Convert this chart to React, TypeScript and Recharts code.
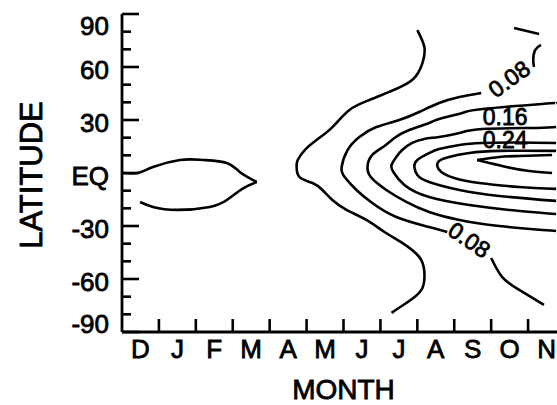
import React from "react";
import { LineChart, Line, XAxis, YAxis, ReferenceDot } from "recharts";

// month bands, first band starts at 0
const MONTHS = ["D", "J", "F", "M", "A", "M", "J", "J", "A", "S", "O", "N"];
const LAT_TICKS = [-90, -80, -70, -60, -50, -40, -30, -20, -10, 0, 10, 20, 30, 40, 50, 60, 70, 80, 90];
const LAT_NAMES: Record<string, string> = { "90": "90", "60": "60", "30": "30", "0": "EQ", "-30": "-30", "-60": "-60", "-90": "-90" };

// contour lines, [month, latitude]
const LENS_TOP = [[0, 0], [0.43, 0], [0.84, 3.4], [1.57, 7.4], [2.19, 7.4], [2.84, 5.7], [3.19, 0.6], [3.65, -5.1]];
const LENS_BOTTOM = [[3.65, -5.1], [3.28, -8.7], [2.84, -15.3], [2.38, -19.2], [1.49, -20.9], [0.84, -19.2], [0.49, -16.4]];
const RIDGE_A = [[8.0, 80.9], [8.19, 71.3], [8.14, 62.3], [7.86, 52.6], [7.24, 45.9], [6.7, 41.3], [6.16, 35.7], [5.7, 26.0], [5.27, 18.7], [4.95, 13.0], [4.76, 7.4], [4.73, 3.4], [4.81, -2.3], [5.16, -5.7], [5.43, -9.6], [5.7, -15.3], [6.08, -20.9], [6.62, -26.6], [7.11, -33.4], [7.59, -39.6], [8.05, -47.5], [8.19, -56.0], [8.11, -66.2], [7.7, -73.6], [7.3, -79.2]];
const C08_HOOK = [[11.16, 60.0], [11.14, 64.0], [11.19, 69.6], [11.35, 72.5]];
const C08_TAIL = [[10.62, 82.1], [11.3, 78.7]];
const C08_MAIN = [[9.73, 45.3], [9.14, 43.0], [8.59, 39.6], [8.05, 34.5], [7.51, 30.0], [6.89, 26.0], [6.43, 20.4], [6.11, 13.0], [5.95, 3.4], [6.03, -2.3], [6.35, -9.6], [6.78, -17.0], [7.43, -24.9], [8.32, -30.6], [8.81, -33.4]];
const C08_LOW = [[10.0, -48.1], [10.3, -58.9], [10.76, -66.2], [11.43, -74.7]];
const C16 = [[11.76, 39.6], [11.38, 39.1], [9.76, 36.2], [9.22, 34.0], [8.59, 30.6], [8.32, 28.3], [7.78, 24.3], [7.38, 19.8], [7.11, 15.3], [6.78, 10.2], [6.65, 3.4], [6.76, -2.8], [7.16, -9.6], [7.7, -16.4], [8.32, -22.1], [9.14, -26.6], [10.22, -30.0], [11.38, -32.3], [11.76, -32.8]];
const C24 = [[11.76, 26.0], [11.22, 25.5], [9.76, 24.9], [9.14, 22.6], [8.59, 20.4], [8.19, 19.3], [7.86, 17.0], [7.59, 13.0], [7.43, 9.1], [7.3, 4.5], [7.35, 0.6], [7.65, -6.8], [8.32, -13.6], [9.41, -18.1], [10.49, -20.9], [11.76, -23.2]];
const C32 = [[11.76, 17.0], [10.76, 17.3], [9.76, 17.0], [9.14, 15.9], [8.59, 13.6], [8.32, 11.3], [8.0, 7.4], [7.92, 3.4], [8.0, -1.1], [8.32, -5.1], [9.14, -9.6], [10.22, -13.0], [11.76, -15.8]];
const C40 = [[11.76, 12.5], [10.22, 12.5], [9.41, 11.3], [8.86, 9.1], [8.59, 6.8], [8.54, 4.0], [8.65, 0.6], [9.0, -2.8], [9.68, -5.7], [10.76, -7.9], [11.76, -9.0]];
const C48_TOP = [[11.65, 10.2], [10.76, 9.6], [10.22, 9.1], [9.62, 7.4]];
const C48_LOW = [[9.62, 7.4], [9.95, 5.7], [10.41, 3.4], [11.03, 1.1], [11.65, 0]];

const CONTOURS = [
  { id: "lensTop", pts: LENS_TOP },
  { id: "lensBottom", pts: LENS_BOTTOM },
  { id: "ridgeA", pts: RIDGE_A },
  { id: "c08hook", pts: C08_HOOK },
  { id: "c08tail", pts: C08_TAIL },
  { id: "c08main", pts: C08_MAIN },
  { id: "c08low", pts: C08_LOW },
  { id: "c16", pts: C16 },
  { id: "c24", pts: C24 },
  { id: "c32", pts: C32 },
  { id: "c40", pts: C40 },
  { id: "c48top", pts: C48_TOP },
  { id: "c48low", pts: C48_LOW },
];

const LABEL_TEXT = ["0.08", "0.16", "0.24", "0.08"];
const LABEL_MONTH = [10.49, 10.38, 10.38, 9.41];
const LABEL_LAT = [53.2, 31.7, 18.7, -37.9];
const LABEL_ANGLE = [-36, 0, 0, 34];

const FONT = "'Liberation Sans', Arial, Helvetica, sans-serif";
const INK = "#000";
// scanned figure: text looks heavier than plain regular weight
const heavy = { stroke: INK, strokeWidth: 0.8, fill: INK, fontFamily: FONT };

const bottomTicks: number[] = [];
MONTHS.forEach((_, i) => {
  if (i > 0) bottomTicks.push(i);
  bottomTicks.push(i + 0.5);
});
const edgeTicks = MONTHS.slice(1).map((_, i) => i + 1);

const LeftTick = (props: any) => {
  const { x, y, payload } = props;
  const v = payload.value;
  const major = v % 30 === 0;
  let dy = 11.5;
  if (v === 90) dy = 21;
  if (v === -90) dy = 1;
  return (
    <g>
      <line x1={x} x2={x + (major ? 17 : 9)} y1={y} y2={y} stroke={INK} strokeWidth={2.6} />
      {major && (
        <text x={x - 13} y={y + dy} textAnchor="end" fontSize={26} {...heavy}>
          {LAT_NAMES[String(v)]}
        </text>
      )}
    </g>
  );
};

const RightTick = (props: any) => {
  const { x, y, payload } = props;
  const major = payload.value % 30 === 0;
  return <line x1={x} x2={x - (major ? 22 : 14)} y1={y} y2={y} stroke={INK} strokeWidth={2.6} />;
};

const BottomTick = (props: any) => {
  const { x, y, payload } = props;
  const v = payload.value;
  if (Number.isInteger(v)) {
    return <line x1={x} x2={x} y1={y} y2={y - 13} stroke={INK} strokeWidth={2.6} />;
  }
  return (
    <text x={x} y={y + 26} textAnchor="middle" fontSize={26} {...heavy}>
      {MONTHS[Math.floor(v)]}
    </text>
  );
};

const TopTick = (props: any) => {
  const { x, y } = props;
  return <line x1={x} x2={x} y1={y} y2={y + 12} stroke={INK} strokeWidth={2.6} />;
};

const monthTitle = (props: any) => {
  const vb = props.viewBox;
  return (
    <text x={vb.x + vb.width / 2} y={vb.y + 67} textAnchor="middle" fontSize={28} {...heavy}>
      MONTH
    </text>
  );
};

const latTitle = (props: any) => {
  const vb = props.viewBox;
  const cx = vb.x + 42;
  const cy = vb.y + vb.height / 2 + 2;
  return (
    <text x={cx} y={cy} transform={`rotate(-90 ${cx} ${cy})`} textAnchor="middle" fontSize={31} {...heavy}>
      LATITUDE
    </text>
  );
};

export default function App() {
  return (
    <div style={{ position: "fixed", left: 0, top: 0, width: 557, height: 405, overflow: "hidden", background: "#fff" }}>
      <LineChart width={580} height={405} margin={{ top: 14, right: 15, bottom: 0, left: 0 }}>
        <XAxis
          xAxisId="b"
          dataKey="m"
          type="number"
          domain={[0, 12]}
          ticks={bottomTicks}
          interval={0}
          height={73}
          tickSize={0}
          tickMargin={0}
          tickLine={false}
          axisLine={{ stroke: INK, strokeWidth: 2.8 }}
          tick={<BottomTick />}
          allowDataOverflow
          label={monthTitle}
        />
        <XAxis
          xAxisId="t"
          orientation="top"
          dataKey="m"
          type="number"
          domain={[0, 12]}
          ticks={edgeTicks}
          interval={0}
          height={0}
          tickSize={0}
          tickMargin={0}
          tickLine={false}
          axisLine={{ stroke: INK, strokeWidth: 2.8 }}
          tick={<TopTick />}
          allowDataOverflow
        />
        <YAxis
          yAxisId="l"
          type="number"
          domain={[-90, 90]}
          ticks={LAT_TICKS}
          interval={0}
          width={122}
          tickSize={0}
          tickMargin={0}
          tickLine={false}
          axisLine={{ stroke: INK, strokeWidth: 2.8 }}
          tick={<LeftTick />}
          allowDataOverflow
          label={latTitle}
        />
        <YAxis
          yAxisId="r"
          orientation="right"
          type="number"
          domain={[-90, 90]}
          ticks={LAT_TICKS}
          interval={0}
          width={0}
          tickSize={0}
          tickMargin={0}
          tickLine={false}
          axisLine={{ stroke: INK, strokeWidth: 2.8 }}
          tick={<RightTick />}
          allowDataOverflow
        />
        {CONTOURS.map((c) => (
          <Line
            key={c.id}
            xAxisId="b"
            yAxisId="l"
            data={c.pts.map(([m, lat]) => ({ m, lat }))}
            dataKey="lat"
            type="natural"
            stroke={INK}
            strokeWidth={2.6}
            dot={false}
            activeDot={false}
            isAnimationActive={false}
          />
        ))}
        {LABEL_TEXT.map((t, i) => (
          <ReferenceDot
            key={"lbl" + i}
            xAxisId="b"
            yAxisId="l"
            x={LABEL_MONTH[i]}
            y={LABEL_LAT[i]}
            r={0}
            shape={(p: any) => (
              <text
                x={p.cx}
                y={p.cy}
                transform={`rotate(${LABEL_ANGLE[i]} ${p.cx} ${p.cy})`}
                textAnchor="middle"
                dominantBaseline="central"
                fontSize={23}
                {...heavy}
              >
                {t}
              </text>
            )}
          />
        ))}
      </LineChart>
    </div>
  );
}
